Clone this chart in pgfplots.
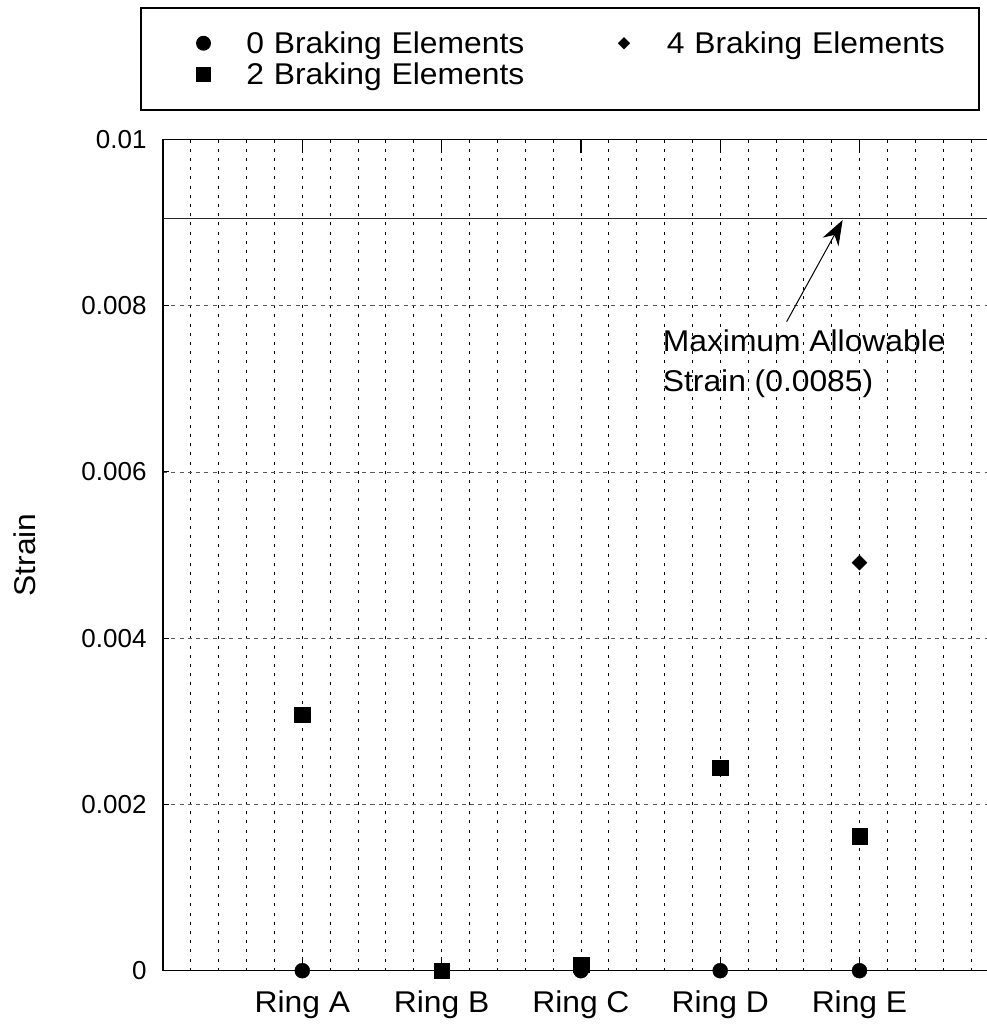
\documentclass[border=0pt]{standalone}
\usepackage{fontspec}
\setmainfont{Liberation Sans}
\newfontfamily\txtfont[FakeStretch=1.06]{Liberation Sans}
\usepackage{pgfplots}
\pgfplotsset{compat=1.18}
\usetikzlibrary{arrows.meta}
\newcommand\bigtxt{\txtfont\fontsize{30bp}{32bp}\selectfont}
\pgfplotsset{leg/.style={legend image code/.code={\path (-62bp,0bp) (42bp,0bp); \draw[##1, mark size=#1] plot coordinates {(0bp,0bp)};}}}
\begin{document}
\begin{tikzpicture}
\useasboundingbox (-163bp,-58.3bp) rectangle (824bp,970.7bp);
\begin{axis}[
  at={(0,0)}, anchor=south west,
  scale only axis, width=835.8bp, height=831.2bp,
  xmin=0, xmax=6, ymin=0, ymax=0.01,
  clip=false,
  scaled y ticks=false,
  xtick={1,2,3,4,5},
  xticklabels={Ring A,Ring B,Ring C,Ring D,Ring E},
  minor xtick={0.2,0.4,0.6,0.8,1.2,1.4,1.6,1.8,2.2,2.4,2.6,2.8,3.2,3.4,3.6,3.8,4.2,4.4,4.6,4.8,5.2,5.4,5.6,5.8},
  ytick={0,0.002,0.004,0.006,0.008,0.01},
  yticklabels={0,0.002,0.004,0.006,0.008,0.01},
  xmajorgrids, xminorgrids, ymajorgrids,
  major x grid style={black, line width=0.8bp, dash pattern=on 3bp off 6.2bp},
  minor x grid style={black, line width=0.8bp, dash pattern=on 3bp off 6.2bp},
  major y grid style={black!65, line width=0.9bp, dash pattern=on 4bp off 4.3bp},
  major tick length=0pt, minor tick length=0pt,
  ytick style={draw=none},
  xtick style={draw=none},
  axis line style={black, line width=1.2bp},
  /pgf/number format/assume math mode=true,
  xticklabel style={font=\bigtxt, yshift=-17bp},
  yticklabel style={font=\fontsize{26bp}{27bp}\selectfont, xshift=-13bp},
  ylabel={Strain},
  ylabel style={font=\bigtxt, at={(axis description cs:-0.1648,0.5)}, anchor=center},
  legend columns=2, transpose legend,
  legend style={at={(-0.0275,1.1594)}, anchor=north west, draw=black, line width=1.5bp,
    inner xsep=0pt, inner ysep=25bp, row sep=10bp, font=\bigtxt,
    nodes={text width=312bp, inner xsep=0pt, inner ysep=0pt, text height=21bp, text depth=0bp, align=left},
    /tikz/every even column/.append style={column sep=3bp}},
]
\addplot[only marks, mark=*, mark size=7.5bp, black, leg=6.7bp]
  coordinates {(1,0) (2,0) (3,0) (4,0) (5,0)};
\addlegendentry{0 Braking Elements}
\addplot[only marks, mark=square*, mark size=7.8bp, black, leg=6.7bp]
  coordinates {(1,0.00308) (2,0.0) (3,0.00007) (4,0.00244) (5,0.00162)};
\addlegendentry{2 Braking Elements}
\addplot[only marks, mark=square*, mark options={rotate=45}, mark size=5.3bp, black, leg=3.6bp]
  coordinates {(5,0.00491)};
\addlegendentry{4 Braking Elements}
\addplot[black!85, line width=1.2bp, forget plot] coordinates {(0,0.009052) (6,0.009052)};
\draw[line width=1bp] (axis cs:0,0.002) -- ++(6bp,0bp);
\draw[line width=1bp] (axis cs:0,0.004) -- ++(6bp,0bp);
\draw[line width=1bp] (axis cs:0,0.006) -- ++(6bp,0bp);
\draw[line width=1bp] (axis cs:0,0.008) -- ++(6bp,0bp);
\draw[line width=1.2bp] (axis cs:1,0.01) -- ++(0bp,-14bp) (axis cs:1,0) -- ++(0bp,14bp);
\draw[line width=1.2bp] (axis cs:2,0.01) -- ++(0bp,-14bp) (axis cs:2,0) -- ++(0bp,14bp);
\draw[line width=1.2bp] (axis cs:3,0.01) -- ++(0bp,-14bp) (axis cs:3,0) -- ++(0bp,14bp);
\draw[line width=1.2bp] (axis cs:4,0.01) -- ++(0bp,-14bp) (axis cs:4,0) -- ++(0bp,14bp);
\draw[line width=1.2bp] (axis cs:5,0.01) -- ++(0bp,-14bp) (axis cs:5,0) -- ++(0bp,14bp);
\draw[line width=1bp, -{Stealth[length=25bp, width=18bp, inset=8bp]}] (axis cs:4.477,0.007808) -- (axis cs:4.879,0.009031);
\node[anchor=base west, inner sep=0pt, font=\bigtxt] at (axis cs:3.587,0.007447) {Maximum Allowable};
\node[anchor=base west, inner sep=0pt, font=\bigtxt] at (axis cs:3.587,0.006966) {Strain (0.0085)};
\end{axis}
\end{tikzpicture}
\end{document}
